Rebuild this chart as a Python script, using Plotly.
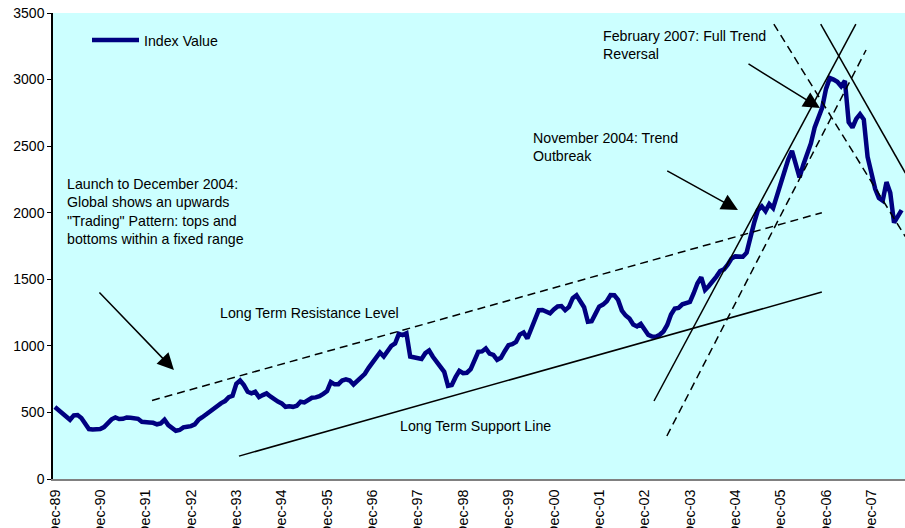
import plotly.graph_objects as go

# Monthly index values, Dec-89 .. Aug-08
index_values = [
    540, 515, 490, 462, 445, 478, 480, 458, 415, 375, 372, 372,
    375, 390, 420, 448, 462, 450, 452, 462, 460, 453, 452, 430,
    424, 425, 422, 411, 418, 445, 405, 378, 362, 368, 388, 393,
    397, 410, 445, 464, 485, 510, 535, 558, 570, 585, 615, 625,
    715, 740, 705, 655, 643, 655, 615, 630, 643, 620, 598, 582,
    568, 542, 547, 542, 550, 580, 575, 593, 610, 613, 622, 640,
    660, 728, 711, 712, 740, 748, 740, 710, 735, 770, 790, 835,
    875, 920, 950, 920, 955, 1000, 1018, 1090, 1081, 1094, 920, 914,
    916, 902, 945, 965, 918, 880, 852, 805, 700, 706, 765, 812,
    795, 798, 825, 890, 955, 958, 980, 942, 932, 895, 910, 960,
    1005, 1012, 1030, 1085, 1100, 1055, 1130, 1207, 1268, 1270, 1258, 1245,
    1274, 1296, 1299, 1268, 1292, 1358, 1380, 1335, 1290, 1181, 1185, 1240,
    1295, 1310, 1335, 1382, 1380, 1345, 1265, 1228, 1205, 1160, 1146, 1165,
    1115, 1082, 1070, 1069, 1083, 1108, 1157, 1235, 1280, 1285, 1312, 1319,
    1330, 1395, 1470, 1515, 1420, 1450, 1480, 1520, 1562, 1575, 1610, 1655,
    1672, 1669, 1669, 1700, 1830, 1925, 2020, 2048, 2012, 2065, 2035, 2130,
    2230, 2320, 2400, 2465, 2370, 2265, 2360, 2440, 2520, 2640, 2720, 2790,
    2930, 3012, 3000, 2983, 2950, 2990, 2680, 2640, 2705, 2740, 2700, 2420,
    2300, 2180, 2110, 2090, 2230, 2150, 1925, 1975, 2020,
]
months = list(range(len(index_values)))

tick_months = list(range(0, 217, 12))
tick_labels = ["Dec-89", "Dec-90", "Dec-91", "Dec-92", "Dec-93", "Dec-94",
               "Dec-95", "Dec-96", "Dec-97", "Dec-98", "Dec-99", "Dec-00",
               "Dec-01", "Dec-02", "Dec-03", "Dec-04", "Dec-05", "Dec-06",
               "Dec-07"]

# Analyst trend lines: (month index, value) endpoints
trend_lines = [
    ("resistance", [25.7, 202.9], [590, 2000], "dash"),
    ("support", [48.7, 202.9], [172, 1404], "solid"),
    ("up_solid", [158.5, 211.9], [586, 3417], "solid"),
    ("up_dashed", [161.9, 214.6], [323, 3222], "dash"),
    ("down_dashed", [190.2, 225.0], [3417, 1820], "dash"),
    ("down_solid", [202.6, 225.0], [3417, 2298], "solid"),
]

# Arrows: (tail x, tail y, head x, head y)
arrows = [
    (11.4, 1412, 31.5, 819),
    (161.6, 2321, 180.7, 2020),
    (183.1, 3124, 202.4, 2786),
]

# Text notes: (x, y, text)
notes = [
    (2.6, 2009, "Launch to December 2004:<br>Global shows an upwards<br>\"Trading\" Pattern: tops and<br>bottoms within a fixed range"),
    (43.1, 1247, "Long Term Resistance Level"),
    (90.7, 398, "Long Term Support Line"),
    (125.9, 2493, "November 2004: Trend<br>Outbreak"),
    (144.6, 3263, "February 2007: Full Trend<br>Reversal"),
]

FONT = "Arial, Liberation Sans, Helvetica, sans-serif"
NAVY = "#000080"

fig = go.Figure()
fig.add_trace(go.Scatter(
    x=months, y=index_values, mode="lines", name="Index Value",
    line=dict(color=NAVY, width=4.5), showlegend=False,
))
for name, xs, ys, dash in trend_lines:
    fig.add_trace(go.Scatter(
        x=xs, y=ys, mode="lines", showlegend=False, hoverinfo="skip",
        line=dict(color="black", width=1.5,
                  dash="8px,5px" if dash == "dash" else "solid"),
    ))

annotations = []
for tx, ty, hx, hy in arrows:
    annotations.append(dict(
        x=hx, y=hy, ax=tx, ay=ty, xref="x", yref="y", axref="x", ayref="y",
        showarrow=True, arrowhead=2, arrowsize=2.2, arrowwidth=1.5,
        arrowcolor="black", text="", standoff=0,
    ))
for nx, ny, txt in notes:
    annotations.append(dict(
        x=nx, y=ny, xref="x", yref="y", text=txt, showarrow=False,
        xanchor="left", yanchor="middle", align="left",
        font=dict(family=FONT, size=14.2, color="black"),
    ))

# legend (manual, matching the original's long line sample)
plot_l, plot_r, plot_t, plot_b = 53, 905, 13, 479
pw, ph = plot_r - plot_l, plot_b - plot_t
annotations.append(dict(
    x=(142 - plot_l) / pw, y=(plot_b - 41) / ph, xref="paper", yref="paper",
    text="Index Value", showarrow=False, xanchor="left", yanchor="middle",
    font=dict(family=FONT, size=14.2, color="black"),
))

fig.update_layout(
    width=905, height=528,
    margin=dict(l=plot_l, r=905 - plot_r, t=plot_t, b=528 - plot_b, pad=0),
    paper_bgcolor="white", plot_bgcolor="#CCFFFF",
    font=dict(family=FONT, size=14, color="black"),
    annotations=annotations,
    shapes=[dict(type="line", xref="paper", yref="paper",
                 x0=(92 - plot_l) / pw, x1=(139 - plot_l) / pw,
                 y0=(plot_b - 40) / ph, y1=(plot_b - 40) / ph,
                 line=dict(color=NAVY, width=4.5))],
    showlegend=False,
)
fig.update_xaxes(
    range=[-0.5, 224.9], tickmode="array", tickvals=tick_months,
    ticktext=tick_labels, tickangle=-90, showgrid=False, zeroline=False,
    showline=True, linecolor="#808080", linewidth=1.5, ticks="",
    automargin=False, tickfont=dict(family=FONT, size=14.4),
    ticklabelstandoff=3,
)
fig.update_yaxes(
    range=[0, 3500], dtick=500, showgrid=False, zeroline=False,
    showline=True, linecolor="black", linewidth=1.5, ticks="outside",
    ticklen=4, tickcolor="black", automargin=False,
    tickfont=dict(family=FONT, size=14),
)

fig.write_html(
    "out.html",
    config={"displayModeBar": False},
    post_script="document.body.style.margin='0';document.body.style.overflow='hidden';",
)
